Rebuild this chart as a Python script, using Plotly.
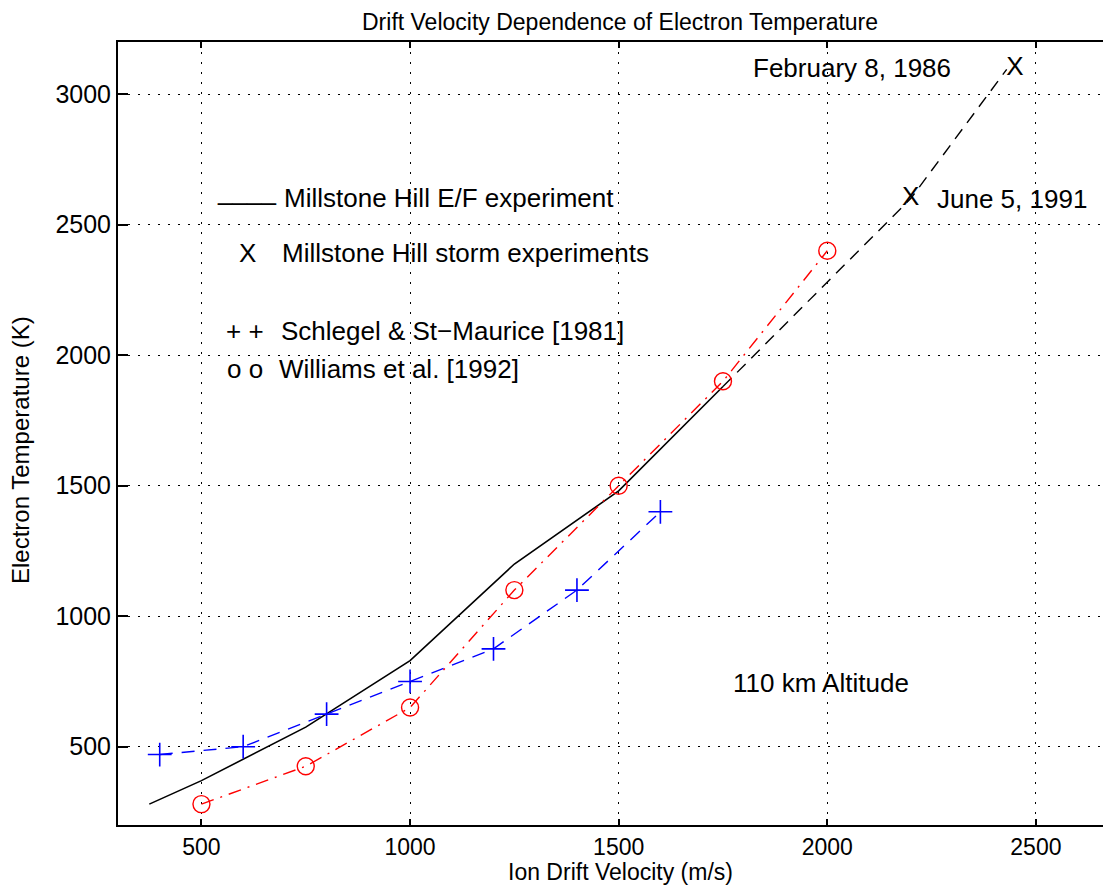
import plotly.graph_objects as go

# Millstone Hill E/F experiment (solid) and extrapolation to storm points (dashed)
ef_v = [375, 500, 750, 1000, 1250, 1500, 1750]
ef_t = [280, 370, 575, 830, 1200, 1480, 1880]
ext_v = [1750, 2200, 2430]
ext_t = [1880, 2600, 3095]

# Millstone Hill storm experiments
storm_v = [2450, 2200]
storm_t = [3100, 2600]

# Schlegel & St-Maurice [1981]
ss_v = [400, 600, 800, 1000, 1200, 1400, 1600]
ss_t = [470, 500, 625, 750, 875, 1100, 1400]

# Williams et al. [1992]
wi_v = [500, 750, 1000, 1250, 1500, 1750, 2000]
wi_t = [280, 425, 650, 1100, 1500, 1900, 2400]

x_ticks = [500, 1000, 1500, 2000, 2500]
y_ticks = [500, 1000, 1500, 2000, 2500, 3000]

FONT = "Liberation Sans, Arial, Helvetica, sans-serif"

# page body has an 8px margin, so the figure sits at (8, 8) in the window
W, H = 1103, 878

fig = go.Figure()
fig.add_trace(go.Scatter(x=ef_v, y=ef_t, mode="lines",
                         line=dict(color="black", width=1.6), showlegend=False))
fig.add_trace(go.Scatter(x=ext_v, y=ext_t, mode="lines",
                         line=dict(color="black", width=1.4, dash="12px,8px"), showlegend=False))
fig.add_trace(go.Scatter(x=ss_v, y=ss_t, mode="lines+markers",
                         line=dict(color="#0000ff", width=1.4, dash="13px,9px"),
                         marker=dict(symbol="cross-thin-open", size=17,
                                     line=dict(color="#0000ff", width=1.6)),
                         showlegend=False))
fig.add_trace(go.Scatter(x=wi_v, y=wi_t, mode="lines+markers",
                         line=dict(color="#ff0000", width=1.4, dash="13px,7px,2px,7px"),
                         marker=dict(symbol="circle-open", size=17, color="#ff0000",
                                     line=dict(color="#ff0000", width=1.4)),
                         showlegend=False))
fig.add_trace(go.Scatter(x=storm_v, y=storm_t, mode="text", text=["X", "X"],
                         textposition="middle center",
                         textfont=dict(family=FONT, size=26, color="black"),
                         showlegend=False))

def ann(x, y, text, anchor="center", size=26):
    fig.add_annotation(x=x, y=y, xref="x", yref="y", text=text, showarrow=False,
                       xanchor=anchor, yanchor="middle",
                       font=dict(family=FONT, size=size, color="black"))

ann(2059, 3100, "February 8, 1986")
ann(2443, 2600, "June 5, 1991")
ann(1985, 745, "110 km Altitude")

ann(608, 2630, "____")
ann(694, 2601, "Millstone Hill E/F experiment", "left")
ann(610, 2390, "X")
ann(689, 2390, "Millstone Hill storm experiments", "left")
ann(605, 2091, "+ +")
ann(687, 2091, "Schlegel & St\u2212Maurice [1981]", "left")
ann(605, 1949, "o o")
ann(682, 1949, "Williams et al. [1992]", "left")

# chart title and axis titles
fig.add_annotation(x=(620 - 118) / 993, y=(825 - 22) / 783, xref="paper", yref="paper",
                   text="Drift Velocity Dependence of Electron Temperature", showarrow=False,
                   xanchor="center", yanchor="middle",
                   font=dict(family=FONT, size=23, color="black"))
fig.add_annotation(x=(620 - 118) / 993, y=(825 - 872) / 783, xref="paper", yref="paper",
                   text="Ion Drift Velocity (m/s)", showarrow=False,
                   xanchor="center", yanchor="middle",
                   font=dict(family=FONT, size=23, color="black"))
fig.add_annotation(x=(21 - 118) / 993, y=(825 - 450) / 783, xref="paper", yref="paper",
                   text="Electron Temperature (K)", showarrow=False, textangle=-90,
                   xanchor="center", yanchor="middle",
                   font=dict(family=FONT, size=24, color="black"))

fig.update_layout(
    width=W, height=H,
    margin=dict(l=110, r=0, t=34, b=61, autoexpand=False),
    paper_bgcolor="white", plot_bgcolor="white",
    font=dict(family=FONT, size=25, color="black"),
)
fig.update_xaxes(
    range=[300, 2680], tickvals=x_ticks, tickformat="d", automargin=False,
    showline=True, linecolor="black", linewidth=2, mirror="ticks",
    ticks="inside", ticklen=6, tickwidth=1.5, tickcolor="black",
    showgrid=True, gridcolor="black", gridwidth=1, griddash="1.5px,8.5px",
    zeroline=False, ticklabelstandoff=0,
    tickfont=dict(family=FONT, size=23, color="black"),
)
fig.update_yaxes(
    range=[200, 3200], tickvals=y_ticks, tickformat="d", automargin=False,
    showline=True, linecolor="black", linewidth=2, mirror=False,
    ticks="inside", ticklen=10, tickwidth=1.5, tickcolor="black",
    showgrid=True, gridcolor="black", gridwidth=1, griddash="1.5px,8.5px",
    zeroline=False, ticklabelstandoff=0,
    tickfont=dict(family=FONT, size=25, color="black"),
)

fig.write_html("out.html")
